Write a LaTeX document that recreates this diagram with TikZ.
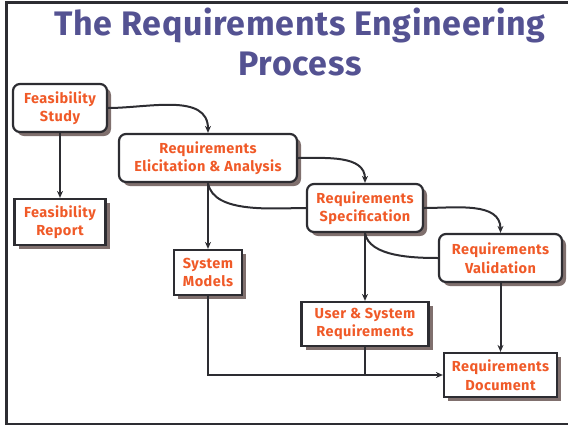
\documentclass[tikz,border=0pt]{standalone}
\usepackage{fontspec}
\setmainfont{Fira Sans}
\usetikzlibrary{shadows,arrows.meta}
\definecolor{titleblue}{RGB}{84,82,146}
\definecolor{labelorange}{RGB}{240,90,40}
\definecolor{shadowgrey}{RGB}{128,112,110}
\definecolor{linegrey}{RGB}{45,45,50}
\tikzset{
  stage/.style={draw=linegrey,line width=2.2pt,rounded corners=7pt,fill=white,
    text=labelorange,font=\bfseries\fontsize{14.5}{18.5}\selectfont\addfontfeatures{LetterSpace=3},
    align=center,inner sep=0pt,
    drop shadow={shadow xshift=4pt,shadow yshift=-4pt,fill=shadowgrey,opacity=1}},
  product/.style={stage,sharp corners},
  flow/.style={draw=linegrey,line width=2pt,-{Stealth[length=7pt,width=6pt]}},
  link/.style={draw=linegrey,line width=2pt}
}
\begin{document}
\begin{tikzpicture}[x=1pt,y=-1pt]
\useasboundingbox (0,0) rectangle (568,426);
\draw[line width=2.5pt,linegrey] (568,2.5) -- (6.5,2.5) -- (6.5,424) -- (568,424);
\node[text=titleblue,font=\bfseries\fontsize{34}{40}\selectfont\addfontfeatures{LetterSpace=2},align=center] (title) at (300,42)
  {The Requirements Engineering\\Process};
\node[stage,minimum width=94pt,minimum height=48pt] (fstudy) at (60,108) {Feasibility\\Study};
\node[stage,minimum width=178pt,minimum height=48pt] (elicit) at (208,158) {Requirements\\Elicitation \& Analysis};
\node[product,minimum width=91pt,minimum height=46pt] (freport) at (60,222) {Feasibility\\Report};
\node[stage,minimum width=116pt,minimum height=48pt] (spec) at (365,208) {Requirements\\Specification};
\node[stage,minimum width=123pt,minimum height=48pt] (valid) at (500.5,258) {Requirements\\Validation};
\node[product,minimum width=68pt,minimum height=45pt] (models) at (208,272.5) {System\\Models};
\node[product,minimum width=127pt,minimum height=44pt] (usersys) at (365,324) {User \& System\\Requirements};
\node[product,minimum width=113pt,minimum height=44pt] (reqdoc) at (500.5,375) {Requirements\\Document};
\draw[flow] (fstudy.east) to[out=0,in=90] (elicit.north);
\draw[flow] (elicit.east) to[out=0,in=90] (spec.north);
\draw[flow] (spec.east) to[out=0,in=90] (valid.north);
\draw[link] (elicit.south) to[out=-80,in=180,looseness=0.8] (spec.west);
\draw[link] (spec.south) to[out=-80,in=180,looseness=0.8] (valid.west);
\draw[flow] (fstudy.south) -- (freport.north);
\draw[flow] (elicit.south) -- (models.north);
\draw[flow] (spec.south) -- (usersys.north);
\draw[flow] (valid.south) -- (reqdoc.north);
\draw[flow] (models.south) |- (reqdoc.west);
\draw[link] (usersys.south) -- (usersys.south |- reqdoc.west);
\end{tikzpicture}
\end{document}
